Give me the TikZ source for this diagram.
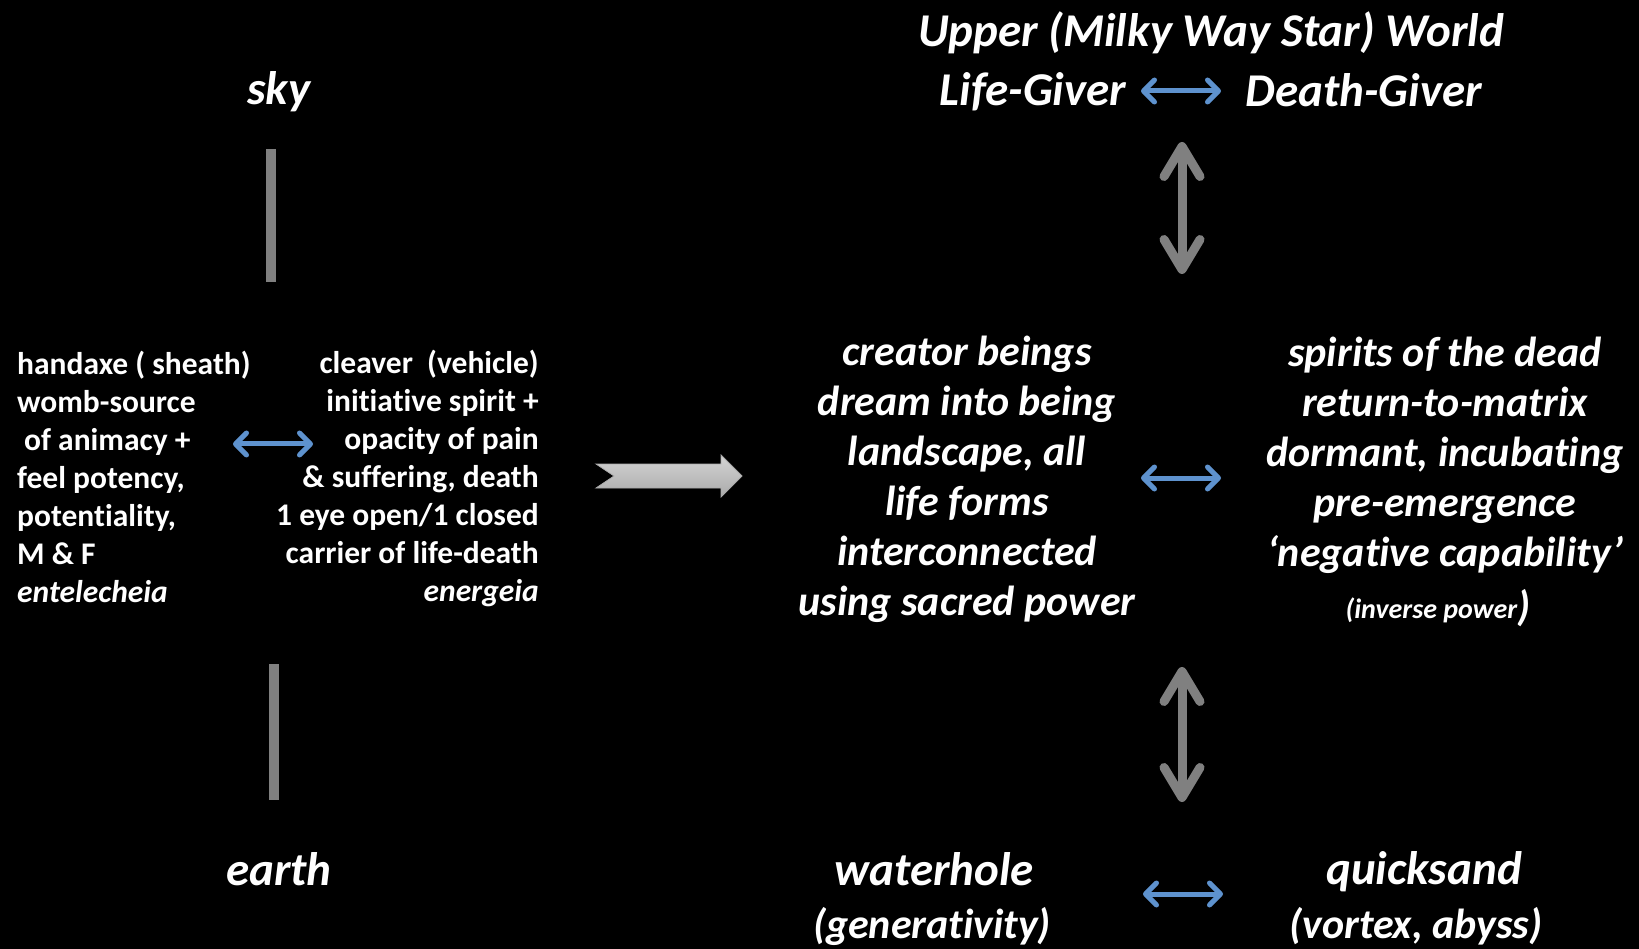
\documentclass[tikz,border=0pt]{standalone}
\usepackage{fontspec}
\setmainfont[Ligatures={NoCommon,NoContextual},RawFeature={-liga;-clig;-calt;-dlig}]{Carlito}
\usetikzlibrary{arrows.meta}
\definecolor{linkblue}{RGB}{94,146,206}
\definecolor{bargray}{RGB}{128,128,128}
\definecolor{arrowtop}{RGB}{212,212,212}
\definecolor{arrowbot}{RGB}{170,170,170}

\begin{document}
\begin{tikzpicture}[x=1pt, y=-1pt,
  big/.style={text=white, font=\fontsize{42}{50}\selectfont\bfseries\itshape, align=center, inner sep=0pt},
  head/.style={big, font=\fontsize{47}{56}\selectfont\bfseries\itshape},
  small/.style={text=white, font=\fontsize{31.5}{38}\selectfont\bfseries, inner sep=0pt},
  bar/.style={draw=bargray, line width=10pt},
  link/.style={draw=linkblue, line width=5pt, {Straight Barb[length=11pt,width=22pt,round]}-{Straight Barb[length=11pt,width=22pt,round]}},
  updown/.style={draw=bargray, line width=9pt, {Straight Barb[length=30pt,width=36pt,round]}-{Straight Barb[length=30pt,width=36pt,round]}}]
\fill[black] (0,0) rectangle (1639,949);
\useasboundingbox (0,0) rectangle (1639,949);

\node[head] (sky) at (279,92) {sky};
\node[head] (earth) at (279,869) {earth};
\node[small, anchor=west, align=left] (handaxe) at (17,477) {handaxe ( sheath)\\womb-source\\\hspace{7pt}of animacy +\\feel potency,\\potentiality,\\M \& F\\\textit{entelecheia}};
\node[small, anchor=east, align=right] (cleaver) at (539,478) {cleaver \ (vehicle)\\initiative spirit +\\opacity of pain\\\& suffering, death\\1 eye open/1 closed\\carrier of life-death\\\textit{energeia}};

\node[head] (upper) at (1211,33) {Upper (Milky Way Star) World};
\node[head] (life) at (1033,92) {Life-Giver};
\node[head] (death) at (1364,90) {Death-Giver};
\node[big] (creator) at (967,479) {creator beings\\dream into being\\landscape, all\\life forms\\interconnected\\using sacred power};
\node[big] (spirits) at (1445,455) {spirits of the dead\\return-to-matrix\\dormant, incubating\\pre-emergence\\‘negative capability’};
\node[big] (inverse) at (1438,608) {{\fontsize{28}{34}\selectfont(inverse power}\raisebox{-2pt}{)}};
\node[head] (waterhole) at (934,869) {waterhole};
\node[big] (generativity) at (932,926) {(generativity)};
\node[head] (quicksand) at (1424,872) {quicksand};
\node[big] (vortex) at (1416,926) {(vortex, abyss)};

\coordinate (skybar1) at (271,149);
\coordinate (skybar2) at (271,282);
\coordinate (earthbar1) at (274,664);
\coordinate (earthbar2) at (274,800);
\draw[bar] (skybar1) -- (skybar2);
\draw[bar] (earthbar1) -- (earthbar2);

\coordinate (tool1) at (233,444);
\coordinate (tool2) at (313,444);
\coordinate (top1) at (1141,91);
\coordinate (top2) at (1221,91);
\coordinate (mid1) at (1141,478);
\coordinate (mid2) at (1221,478);
\coordinate (low1) at (1143,894);
\coordinate (low2) at (1223,894);
\draw[link] (tool1) -- (tool2);
\draw[link] (top1) -- (top2);
\draw[link] (mid1) -- (mid2);
\draw[link] (low1) -- (low2);

\coordinate (up1) at (1182,142);
\coordinate (up2) at (1182,274);
\coordinate (down1) at (1182,667);
\coordinate (down2) at (1182,802);
\draw[updown] (up1) -- (up2);
\draw[updown] (down1) -- (down2);

\shade[top color=arrowtop, bottom color=arrowbot, draw=arrowbot, line width=0.8pt]
  (596,464) -- (614,476) -- (596,488) -- (721,488) -- (721,497) -- (742,476)
  -- (721,455) -- (721,464) -- cycle;
\end{tikzpicture}
\end{document}
